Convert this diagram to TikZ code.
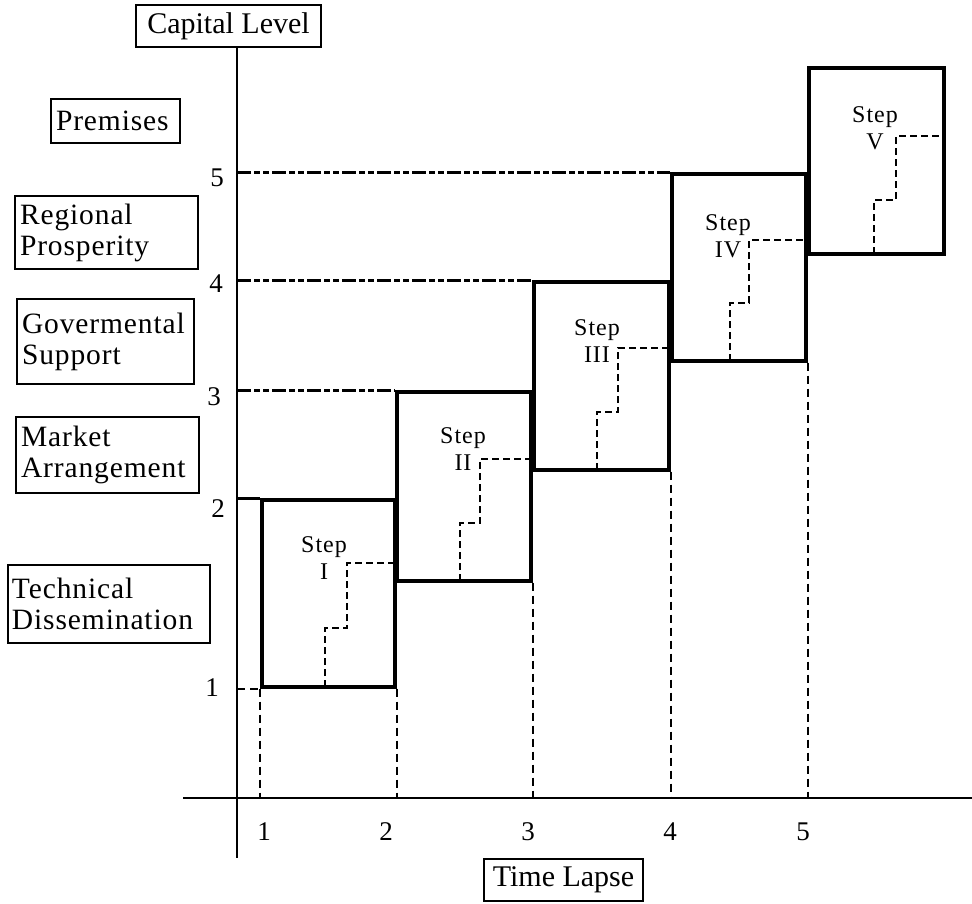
\documentclass[tikz,border=0pt]{standalone}
\usepackage{fontspec}
\setmainfont{Liberation Serif}
\begin{document}
\begin{tikzpicture}[x=1pt,y=-1pt,
  lbl/.style={draw, line width=1.4pt, inner xsep=5pt, inner ysep=2pt, align=left,
    font=\fontsize{29.5}{31}\selectfont\addfontfeatures{LetterSpace=3}},
  stepbox/.style={draw, line width=3.3pt, inner sep=0pt},
  steptxt/.style={align=center, inner sep=0pt, font=\fontsize{24}{27}\selectfont\addfontfeatures{LetterSpace=4}},
  tick/.style={inner sep=0pt, font=\fontsize{27}{30}\selectfont},
  axis/.style={line width=2.5pt},
  level/.style={line width=3pt, dash pattern=on 14pt off 3pt on 6pt off 3pt on 6pt off 3pt},
  solidlevel/.style={line width=3pt},
  guide/.style={line width=1.8pt, dash pattern=on 8pt off 5pt},
  stair/.style={line width=2pt, dash pattern=on 7pt off 4pt}]

\useasboundingbox (0,0) rectangle (972,904);

% label boxes
\node[lbl, align=center, minimum width=185pt, minimum height=42pt, font=\fontsize{30}{34}\selectfont] (cap) at (228.5,26) {Capital Level};
\node[lbl, text width=119pt, minimum height=44pt] (prem) at (115.5,121) {Premises};
\node[lbl, text width=173pt, minimum height=73pt] (reg) at (106.5,232.5) {Regional\\Prosperity};
\node[lbl, text width=167pt, minimum height=85pt] (gov) at (105.5,341.5) {Govermental\\Support};
\node[lbl, text width=173pt, minimum height=76pt] (mkt) at (107.5,455) {Market\\Arrangement};
\node[lbl, text width=194pt, minimum height=78pt, inner xsep=4pt] (tech) at (109,604) {Technical\\Dissemination};
\node[lbl, align=center, minimum width=159pt, minimum height=42pt, font=\fontsize{30}{34}\selectfont] (time) at (563.5,880) {Time Lapse};

% axes
\coordinate (O) at (237,798);
\coordinate (ytop) at (O |- cap.south);
\coordinate (ybot) at (237,858);
\coordinate (xl) at (183,798);
\coordinate (xr) at (972,798);
\draw[axis] (ytop) -- (ybot);
\draw[axis] (xl) -- (xr);

% step boxes
\node[stepbox, minimum width=133pt, minimum height=187pt] (s1) at (328.5,593.5) {};
\node[stepbox, minimum width=134pt, minimum height=189pt] (s2) at (464,486.5) {};
\node[stepbox, minimum width=135pt, minimum height=188pt] (s3) at (601.5,376) {};
\node[stepbox, minimum width=134pt, minimum height=187pt] (s4) at (739,267.5) {};
\node[stepbox, minimum width=135pt, minimum height=186pt] (s5) at (876.5,161) {};

% step labels
\node[steptxt] (t1) at (324,558) {Step\\I};
\node[steptxt] (t2) at (463,449) {Step\\II};
\node[steptxt] (t3) at (597,341) {Step\\III};
\node[steptxt] (t4) at (728,236) {Step\\IV};
\node[steptxt] (t5) at (875,128) {Step\\V};

% level lines
\draw[level] (O |- s4.north west) -- (s4.north west);
\draw[level] (O |- s3.north west) -- (s3.north west);
\draw[level] (O |- s2.north west) -- (s2.north west);
\draw[solidlevel] (O |- s1.north west) -- (s1.north west);
\draw[guide] (O |- s1.south west) -- (s1.south west);

% vertical guides
\draw[guide] (s1.south west) -- (s1.south west |- O);
\draw[guide] (s1.south east) -- (s1.south east |- O);
\draw[guide] (s2.south east) -- (s2.south east |- O);
\draw[guide] (s3.south east) -- (s3.south east |- O);
\draw[guide] (s4.south east) -- (s4.south east |- O);

% staircases
\draw[stair] (325,687) -- (325,628) -- (347,628) -- (347,563) -- (s1.east |- 0,563);
\draw[stair] (460,581) -- (460,523) -- (480,523) -- (480,459) -- (s2.east |- 0,459);
\draw[stair] (597,470) -- (597,412) -- (618,412) -- (618,348) -- (s3.east |- 0,348);
\draw[stair] (730,361) -- (730,303) -- (749,303) -- (749,240) -- (s4.east |- 0,240);
\draw[stair] (874,254) -- (874,200) -- (896,200) -- (896,136) -- (s5.east |- 0,136);

% y tick labels
\node[tick] (y5) at (217,178) {5};
\node[tick] (y4) at (216,284) {4};
\node[tick] (y3) at (214,397) {3};
\node[tick] (y2) at (218,509) {2};
\node[tick] (y1) at (212,688) {1};

% x tick labels
\node[tick] (x1) at (264,832) {1};
\node[tick] (x2) at (386,832) {2};
\node[tick] (x3) at (528,832) {3};
\node[tick] (x4) at (670,832) {4};
\node[tick] (x5) at (803,832) {5};
\end{tikzpicture}
\end{document}
